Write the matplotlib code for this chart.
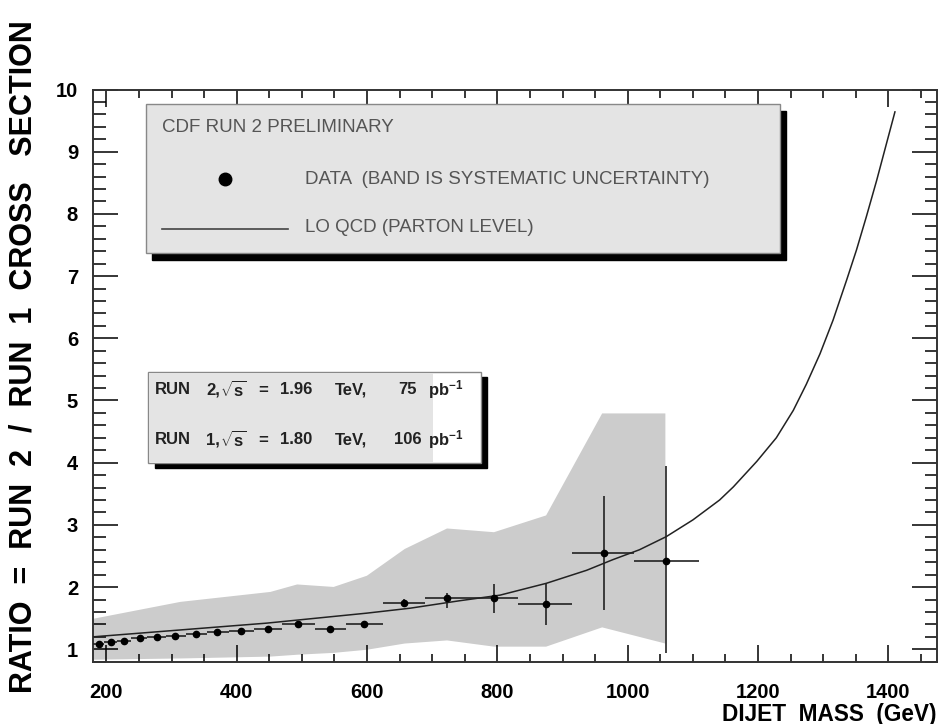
import numpy as np
import matplotlib.pyplot as plt
from matplotlib.patches import Rectangle
from matplotlib.lines import Line2D
from matplotlib.ticker import MultipleLocator

plt.rcParams['font.family'] = ['Liberation Sans', 'DejaVu Sans']
plt.rcParams['mathtext.fontset'] = 'custom'
plt.rcParams['mathtext.rm'] = 'Liberation Sans:bold'
plt.rcParams['mathtext.bf'] = 'Liberation Sans:bold'
plt.rcParams['mathtext.it'] = 'Liberation Sans:bold'

# measured ratio points (dijet mass in GeV)
mass = [188, 207, 227, 251, 278, 306, 337, 370, 406, 448, 494, 543, 595,
        657, 723, 795, 874, 963, 1059]
ratio = [1.09, 1.12, 1.14, 1.18, 1.20, 1.22, 1.25, 1.28, 1.30, 1.33, 1.41, 1.33, 1.41,
         1.75, 1.83, 1.82, 1.73, 2.54, 2.42]
bin_lo = [180, 197, 217, 238, 263, 292, 322, 354, 388, 426, 470, 520, 568,
          624, 689, 758, 832, 915, 1010]
bin_hi = [197, 217, 238, 263, 292, 322, 354, 388, 426, 470, 520, 568, 624,
          689, 758, 832, 915, 1010, 1110]
stat_lo = [1.07, 1.10, 1.12, 1.16, 1.18, 1.20, 1.23, 1.26, 1.28, 1.31, 1.38, 1.30, 1.38,
           1.69, 1.66, 1.59, 1.39, 1.63, 0.94]
stat_hi = [1.11, 1.14, 1.16, 1.20, 1.22, 1.24, 1.27, 1.30, 1.32, 1.35, 1.44, 1.36, 1.44,
           1.81, 1.90, 2.05, 2.06, 3.46, 3.94]

# systematic band
band_x = [180, 313, 451, 492, 548, 599, 657, 722, 794, 874, 960, 1057]
band_hi = [1.50, 1.77, 1.93, 2.05, 2.01, 2.19, 2.62, 2.95, 2.89, 3.16, 4.80, 4.80]
band_lo = [0.84, 0.86, 0.89, 0.92, 0.95, 1.00, 1.10, 1.15, 1.05, 1.05, 1.36, 1.10]

# LO QCD curve
qcd_x = [180, 313, 446, 599, 666, 742, 804, 875, 937, 977, 1018, 1059, 1100, 1141,
         1162, 1198, 1228, 1254, 1274, 1295, 1315, 1336, 1351, 1366, 1382, 1397, 1410]
qcd_y = [1.20, 1.31, 1.42, 1.58, 1.66, 1.78, 1.87, 2.06, 2.27, 2.44, 2.60, 2.81, 3.08, 3.40,
         3.61, 4.02, 4.40, 4.84, 5.26, 5.75, 6.29, 6.94, 7.42, 7.95, 8.54, 9.13, 9.64]

# luminosity box text pieces
lumi_rows = [['RUN', '2,', '$\\sqrt{s}$', '=', '1.96', 'TeV,', '75', 'pb$^{-1}$'],
             ['RUN', '1,', '$\\sqrt{s}$', '=', '1.80', 'TeV,', '106', 'pb$^{-1}$']]

W, H = 953, 724
fig = plt.figure(figsize=(W / 100, H / 100), dpi=100)
ax = fig.add_axes([93.3 / W, 1 - 661.7 / H, (937.3 - 93.3) / W, (661.7 - 89.5) / H])


def fx(px):
    return px / W


def fy(py):
    return 1 - py / H


ax.fill_between(band_x, band_lo, band_hi, color='#cccccc', lw=0, zorder=1)
ax.plot(qcd_x, qcd_y, color='#222222', lw=1.1, zorder=3)

m = np.array(mass)
r = np.array(ratio)
xerr = [m - np.array(bin_lo), np.array(bin_hi) - m]
yerr = [r - np.array(stat_lo), np.array(stat_hi) - r]
ax.errorbar(m, r, xerr=xerr, yerr=yerr, fmt='o', ms=4.5, color='black',
            ecolor='#222222', elinewidth=1.2, capsize=0, zorder=4)

ax.set_xlim(180, 1475)
ax.set_ylim(0.8, 10)
ax.xaxis.set_major_locator(MultipleLocator(200))
ax.xaxis.set_minor_locator(MultipleLocator(50))
ax.yaxis.set_major_locator(MultipleLocator(1))
ax.yaxis.set_minor_locator(MultipleLocator(0.2))
ax.tick_params(axis='x', which='major', direction='in', length=12, width=1.1,
               top=True, pad=15, labelsize=14.5)
ax.tick_params(axis='x', which='minor', direction='in', length=6, width=1.1, top=True)
ax.tick_params(axis='y', which='major', direction='in', length=18, width=1.1,
               right=True, pad=11, labelsize=14.5)
ax.tick_params(axis='y', which='minor', direction='in', length=9, width=1.1, right=True)
for lab in ax.get_xticklabels() + ax.get_yticklabels():
    lab.set_fontweight('bold')
for sp in ax.spines.values():
    sp.set_linewidth(1.4)
    sp.set_color('#333333')

fig.text(fx(937), fy(714), 'DIJET  MASS  (GeV)', ha='right', va='center',
         fontsize=16.3, fontweight='bold')
fig.text(fx(24), fy(357), 'RATIO  =  RUN  2  /  RUN  1  CROSS   SECTION', rotation=90,
         ha='center', va='center', fontsize=22, fontweight='bold')

# top legend box
fig.patches.append(Rectangle((fx(152), fy(260)), fx(780 - 146), fy(0) - fy(149),
                             transform=fig.transFigure, color='black', zorder=5))
fig.patches.append(Rectangle((fx(146), fy(253)), fx(780 - 146), fy(0) - fy(149),
                             transform=fig.transFigure, facecolor='#e4e4e4',
                             edgecolor='#888888', lw=1, zorder=6))
fig.text(fx(162), fy(128), 'CDF RUN 2 PRELIMINARY', ha='left', va='center',
         fontsize=13.5, color='#555555', zorder=7)
fig.lines.append(Line2D([fx(225)], [fy(179)], marker='o', ms=9, color='black',
                        transform=fig.transFigure, zorder=7))
fig.text(fx(305), fy(180), 'DATA  (BAND IS SYSTEMATIC UNCERTAINTY)', ha='left', va='center',
         fontsize=13.5, color='#555555', zorder=7)
fig.lines.append(Line2D([fx(162), fx(288)], [fy(229), fy(229)], color='#444444', lw=1.2,
                        transform=fig.transFigure, zorder=7))
fig.text(fx(305), fy(228), 'LO QCD (PARTON LEVEL)', ha='left', va='center',
         fontsize=13.5, color='#555555', zorder=7)

# luminosity box
fig.patches.append(Rectangle((fx(155), fy(468)), fx(480.7 - 148.3), fy(0) - fy(91),
                             transform=fig.transFigure, color='black', zorder=5))
fig.patches.append(Rectangle((fx(148.3), fy(462.7)), fx(480.7 - 148.3), fy(0) - fy(91),
                             transform=fig.transFigure, facecolor='white',
                             edgecolor='#888888', lw=1, zorder=6))
fig.patches.append(Rectangle((fx(149), fy(462)), fx(433 - 149), fy(0) - fy(89.5),
                             transform=fig.transFigure, facecolor='#e4e4e4', lw=0, zorder=6))
piece_x = [155, 206, 220, 258, 280, 335, 408, 428]
for row, yy in zip(lumi_rows, [390, 440]):
    for k, (piece, xx) in enumerate(zip(row, piece_x)):
        fig.text(fx(xx), fy(yy), piece, ha='center' if k == 6 else 'left', va='center',
                 fontsize=12, fontweight='bold', color='#222222', zorder=7)

fig.savefig('out.png', dpi=100)
